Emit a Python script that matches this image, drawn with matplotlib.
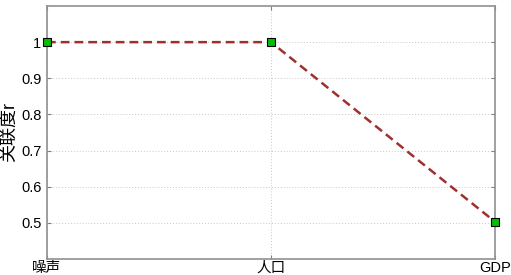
import matplotlib
matplotlib.use("Agg")
import matplotlib.pyplot as plt

categories = ["噪声", "人口", "GDP"]
values = [1.0, 1.0, 0.503]
yticks = [0.5, 0.6, 0.7, 0.8, 0.9, 1.0]
ytick_labels = ["0.5", "0.6", "0.7", "0.8", "0.9", "1"]

plt.rcParams['font.family'] = ['Liberation Sans', 'Noto Sans CJK SC', 'DejaVu Sans']

fig = plt.figure(figsize=(5.11, 2.75), dpi=100)
ax = fig.add_axes([47/511, 16/275, 448/511, 253/275])
x = list(range(len(categories)))
ax.plot(x, values, linestyle='--', color='#a03030', linewidth=1.8, dashes=(3.5, 2),
        marker='s', markersize=6, markerfacecolor='#00c000', markeredgecolor='black',
        markeredgewidth=0.8, clip_on=False, zorder=3)
ax.set_xlim(0, 2)
ax.set_ylim(0.4, 1.1)
ax.set_xticks(x)
ax.set_xticklabels(categories, fontsize=10.5)
ax.set_yticks(yticks)
ax.set_yticklabels(ytick_labels, fontsize=10.5)
ax.set_ylabel("关联度r", fontsize=13, labelpad=2)
ax.grid(True, linestyle=(0, (1, 2)), color='#c8c8c8', linewidth=0.7)
ax.tick_params(axis='y', direction='in', length=3, color='#808080', right=True, pad=4)
ax.tick_params(axis='x', direction='in', length=3, color='#808080', top=True, pad=1.5)
for s in ax.spines.values():
    s.set_color('#909090')
    s.set_linewidth(1.2)
fig.savefig("out.png", dpi=100)
